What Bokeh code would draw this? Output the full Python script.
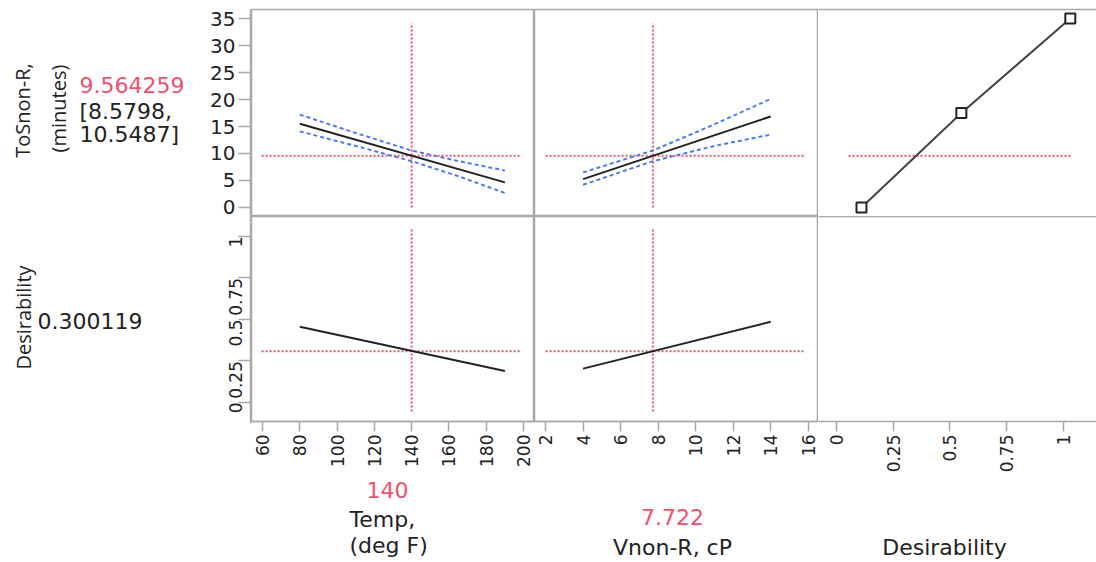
import math
from bokeh.plotting import figure
from bokeh.layouts import column, row
from bokeh.models import Range1d, FixedTicker, LinearAxis, NumeralTickFormatter
from bokeh.core.properties import value
from bokeh.embed import file_html
from bokeh.resources import INLINE

# ---------------- data ----------------
temp_x = [80, 190]
temp_pred = [15.5, 4.65]
temp_ci_x = [80, 110, 140, 165, 190]
temp_ci_lo = [14.1, 11.4, 8.58, 5.8, 2.7]
temp_ci_hi = [17.2, 13.8, 10.55, 8.6, 6.85]

vnon_x = [4, 14]
vnon_pred = [5.25, 16.85]
vnon_ci_x = [4, 7.722, 11, 14]
vnon_ci_lo = [4.2, 8.58, 11.4, 13.5]
vnon_ci_hi = [6.5, 10.55, 15.4, 20.1]

des_fn_x = [0.11, 0.55, 1.03]
des_fn_y = [0, 17.5, 35]

temp_des = [0.45, 0.18]
vnon_des = [0.195, 0.48]

cur_temp = 140
cur_vnon = 7.722
cur_resp = 9.564259
cur_ci = [8.5798, 10.5487]
cur_des = 0.300119

temp_ticks = [60, 80, 100, 120, 140, 160, 180, 200]
vnon_ticks = [2, 4, 6, 8, 10, 12, 14, 16]
unit_ticks = [0, 0.25, 0.5, 0.75, 1]
resp_ticks = [0, 5, 10, 15, 20, 25, 30, 35]

# axis extents (panel frames)
temp_rng = (54.1, 205.9)
vnon_rng = (1.41, 16.55)
des_rng = (-0.0793, 1.1454)
resp_rng = (-1.667, 36.667)
dy_rng = (-0.1265, 1.12)
# extents of the two left-axis strips (slightly taller than the frames)
resp_axis_rng = (-2.778, 36.667)
dy_axis_rng = (-0.1265, 1.0843)

# crosshair spans
temp_span = [59.5, 199]
vnon_span = [2, 15.8]
des_span = [0.053, 1.04]
resp_span = [0, 34.1]
dy_span = [-0.066, 1.048]

ROT_FONT = "Open Sans"
HOR_FONT = "DejaVu Sans"
GRAY = "#A8A8A8"
RED = "#F0506E"
BLUE = "#4A7BF7"
BLACK = "#222222"
TXT = "#222222"


def base_fig(width, height, xr, yr, mbl=0, mbt=0, mbb=0, mbr=0):
    p = figure(width=width, height=height, x_range=Range1d(*xr), y_range=Range1d(*yr),
               x_axis_location=None, y_axis_location=None, toolbar_location=None,
               output_backend="svg", title=None, min_border=0, min_border_left=mbl,
               min_border_top=mbt, min_border_bottom=mbb, min_border_right=mbr)
    p.xgrid.visible = False
    p.ygrid.visible = False
    p.outline_line_color = None
    p.background_fill_color = "white"
    p.border_fill_color = "white"
    return p


def panel(width, height, xr, yr, mbt=0, mbb=0, outline=True):
    p = base_fig(width, height, xr, yr, mbt=mbt, mbb=mbb)
    if outline:
        p.outline_line_color = GRAY
        p.outline_line_width = 1.5
    return p


def add_axis(p, side, ticks, tick_out, orient=None, fmt=None, font=HOR_FONT, size="17px"):
    ax = LinearAxis(ticker=FixedTicker(ticks=ticks))
    ax.axis_line_color = GRAY
    ax.axis_line_width = 1.5
    ax.major_tick_line_color = GRAY
    ax.major_tick_line_width = 1.5
    ax.major_tick_out = tick_out
    ax.major_tick_in = 0
    ax.minor_tick_line_color = None
    ax.major_label_text_font = font
    ax.major_label_text_font_size = size
    ax.major_label_text_color = TXT
    ax.major_label_standoff = 3
    if orient is not None:
        ax.major_label_orientation = orient
    if fmt is not None:
        ax.formatter = fmt
    p.add_layout(ax, side)
    return ax


def redline(p, xs, ys):
    p.line(xs, ys, line_color=RED, line_width=2, line_dash="2 2")


def text_fig(w, h, y0, y1):
    return base_fig(w, h, (0, w), (y1, y0))


def txt(p, x, y, s, color=TXT, size="22px", align="left", angle=0, font=HOR_FONT):
    p.text(x=[x], y=[y], text=[s], text_font=value(font), text_font_size=value(size),
           text_color=color, text_align=align, text_baseline="middle", angle=angle)


unit_fmt = NumeralTickFormatter(format="0.[00]")

# ---------------- left text strip ----------------
L = text_fig(190, 475, 0, 475)
txt(L, 22, 110, "ToSnon-R,", align="center", angle=math.pi / 2, font=ROT_FONT, size="20px")
txt(L, 58, 108, "(minutes)", align="center", angle=math.pi / 2, font=ROT_FONT, size="20px")
txt(L, 79, 84, f"{cur_resp:.6f}", color=RED)
txt(L, 79, 111, f"[{cur_ci[0]:.4f},")
txt(L, 79, 134, f"{cur_ci[1]:.4f}]")
txt(L, 23, 317, "Desirability", align="center", angle=math.pi / 2, font=ROT_FONT, size="20px")
txt(L, 37, 320, f"{cur_des:.6f}")

# ---------------- left axis strip ----------------
AxA = base_fig(61, 222, (0, 1), resp_axis_rng, mbl=60, mbt=9)
add_axis(AxA, "left", resp_ticks, 12, size="20px")
AxB = base_fig(61, 253, (0, 1), dy_axis_rng, mbl=60, mbb=52)
add_axis(AxB, "left", unit_ticks, 12, orient=math.pi / 2, fmt=unit_fmt)

# ---------------- row 1 panels ----------------
P11 = panel(283, 216, temp_rng, resp_rng, mbt=9)
redline(P11, temp_span, [cur_resp, cur_resp])
redline(P11, [cur_temp, cur_temp], resp_span)
P11.line(temp_ci_x, temp_ci_hi, line_color=BLUE, line_width=2, line_dash="4 3")
P11.line(temp_ci_x, temp_ci_lo, line_color=BLUE, line_width=2, line_dash="4 3")
P11.line(temp_x, temp_pred, line_color=BLACK, line_width=2)

P12 = panel(284, 216, vnon_rng, resp_rng, mbt=9)
redline(P12, vnon_span, [cur_resp, cur_resp])
redline(P12, [cur_vnon, cur_vnon], resp_span)
P12.line(vnon_ci_x, vnon_ci_hi, line_color=BLUE, line_width=2, line_dash="4 3")
P12.line(vnon_ci_x, vnon_ci_lo, line_color=BLUE, line_width=2, line_dash="4 3")
P12.line(vnon_x, vnon_pred, line_color=BLACK, line_width=2)

P13 = panel(278, 216, des_rng, resp_rng, mbt=9, outline=False)
add_axis(P13, "above", [], 0)
redline(P13, des_span, [cur_resp, cur_resp])
P13.line(des_fn_x, des_fn_y, line_color="#444444", line_width=2)
P13.scatter(des_fn_x, des_fn_y, marker="square", size=10, fill_color="white",
            line_color=BLACK, line_width=2)

# ---------------- row 2 panels ----------------
P21 = panel(283, 259, temp_rng, dy_rng, mbb=52)
add_axis(P21, "below", temp_ticks, 10, orient=math.pi / 2)
redline(P21, temp_span, [cur_des, cur_des])
redline(P21, [cur_temp, cur_temp], dy_span)
P21.line(temp_x, temp_des, line_color=BLACK, line_width=2)

P22 = panel(284, 259, vnon_rng, dy_rng, mbb=52)
add_axis(P22, "below", vnon_ticks, 10, orient=math.pi / 2)
redline(P22, vnon_span, [cur_des, cur_des])
redline(P22, [cur_vnon, cur_vnon], dy_span)
P22.line(vnon_x, vnon_des, line_color=BLACK, line_width=2)

P23 = panel(278, 259, des_rng, dy_rng, mbb=52, outline=False)
add_axis(P23, "above", [], 0)
add_axis(P23, "below", unit_ticks, 10, orient=math.pi / 2, fmt=unit_fmt)

# ---------------- bottom factor labels ----------------
B = text_fig(1096, 87, 475, 562)
txt(B, 387, 489, f"{cur_temp}", color=RED, align="center")
txt(B, 349, 519, "Temp,")
txt(B, 349, 545, "(deg F)")
txt(B, 672, 516, f"{cur_vnon}", color=RED, align="center")
txt(B, 672, 547, "Vnon-R, cP", align="center")
txt(B, 944, 547, "Desirability", align="center")

panels = column(row(P11, P12, P13), row(P21, P22, P23))
layout = column(row(L, column(AxA, AxB), panels), B)

open("out.html", "w").write(file_html(layout, INLINE))
